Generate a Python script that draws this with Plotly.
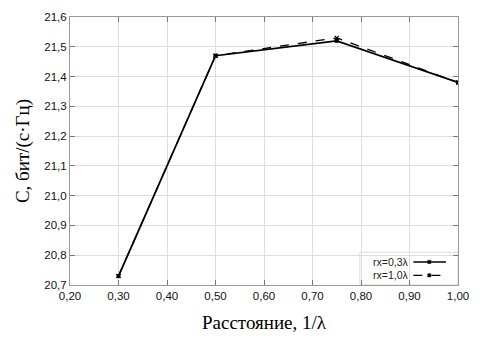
import plotly.graph_objects as go

x_vals = [0.30, 0.50, 0.75, 1.00]
c_rx03 = [20.73, 21.47, 21.52, 21.38]
c_rx10 = [20.73, 21.47, 21.53, 21.38]
series_names = ["rx=0,3λ", "rx=1,0λ"]
x_ticks = [0.2, 0.3, 0.4, 0.5, 0.6, 0.7, 0.8, 0.9, 1.0]
x_tick_text = ["0,20", "0,30", "0,40", "0,50", "0,60", "0,70", "0,80", "0,90", "1,00"]
y_ticks = [20.7, 20.8, 20.9, 21.0, 21.1, 21.2, 21.3, 21.4, 21.5, 21.6]
y_tick_text = ["20,7", "20,8", "20,9", "21,0", "21,1", "21,2", "21,3", "21,4", "21,5", "21,6"]

fig = go.Figure()
fig.add_trace(go.Scatter(x=x_vals, y=c_rx03, mode="lines+markers", name=series_names[0],
                         line=dict(color="black", width=1.8),
                         marker=dict(symbol="square", size=4, color="black")))
fig.add_trace(go.Scatter(x=x_vals, y=c_rx10, mode="lines+markers", name=series_names[1],
                         line=dict(color="black", width=1.3, dash="dash"),
                         marker=dict(symbol="x-thin", size=4, color="black",
                                     line=dict(color="black", width=1.2))))

axis_common = dict(showgrid=True, gridcolor="#dddddd", gridwidth=1,
                   showline=True, linecolor="#999999", linewidth=1, mirror="ticks",
                   ticks="inside", ticklen=5, tickcolor="#777777",
                   zeroline=False, ticklabeloverflow="allow",
                   tickfont=dict(family="Liberation Sans, Arial", size=11.5, color="#111111"))

# custom legend (text on the left, line sample on the right), in paper coordinates
legend_font = dict(family="Liberation Sans, Arial", size=10.5, color="#222222")
rows_y = [0.086, 0.036]
dashes = ["solid", "dash"]
widths = [1.5, 1.2]
shapes = [dict(type="rect", xref="paper", yref="paper", x0=0.747, x1=1.0, y0=0.0, y1=0.122,
               line=dict(color="#dddddd", width=1), fillcolor="white", layer="below")]
annotations = []
for name, yy, dsh, w in zip(series_names, rows_y, dashes, widths):
    annotations.append(dict(xref="paper", yref="paper", x=0.876, y=yy, text=name,
                            showarrow=False, xanchor="right", yanchor="middle", font=legend_font,
                            height=12))
    shapes.append(dict(type="line", xref="paper", yref="paper", x0=0.885, x1=0.969, y0=yy, y1=yy,
                       line=dict(color="black", width=w, dash=dsh)))
    shapes.append(dict(type="rect", xref="paper", yref="paper", x0=0.922, x1=0.930,
                       y0=yy - 0.006, y1=yy + 0.006, line=dict(color="black", width=0.5),
                       fillcolor="black"))

fig.update_layout(
    width=480, height=342,
    margin=dict(l=70, r=18, t=11, b=57),
    paper_bgcolor="white", plot_bgcolor="white",
    showlegend=False,
    shapes=shapes,
    annotations=annotations,
    xaxis=dict(range=[0.2, 1.0], tickvals=x_ticks, ticktext=x_tick_text,
               title=dict(text="Расстояние, 1/λ", standoff=14,
                          font=dict(family="Liberation Serif, Times New Roman", size=19, color="black")),
               **axis_common),
    yaxis=dict(range=[20.7, 21.6], tickvals=y_ticks, ticktext=y_tick_text,
               title=dict(text="C, бит/(с·Гц)", standoff=9,
                          font=dict(family="Liberation Serif, Times New Roman", size=19, color="black")),
               **axis_common),
)

fig.write_html("out.html", config={"displayModeBar": False})

# remove the default page margin so the 480x342 figure fits the window exactly
with open("out.html", "r", encoding="utf-8") as f:
    html = f.read()
html = html.replace("<head>", "<head><style>html,body{margin:0;padding:0;overflow:hidden;}</style>", 1)
with open("out.html", "w", encoding="utf-8") as f:
    f.write(html)
